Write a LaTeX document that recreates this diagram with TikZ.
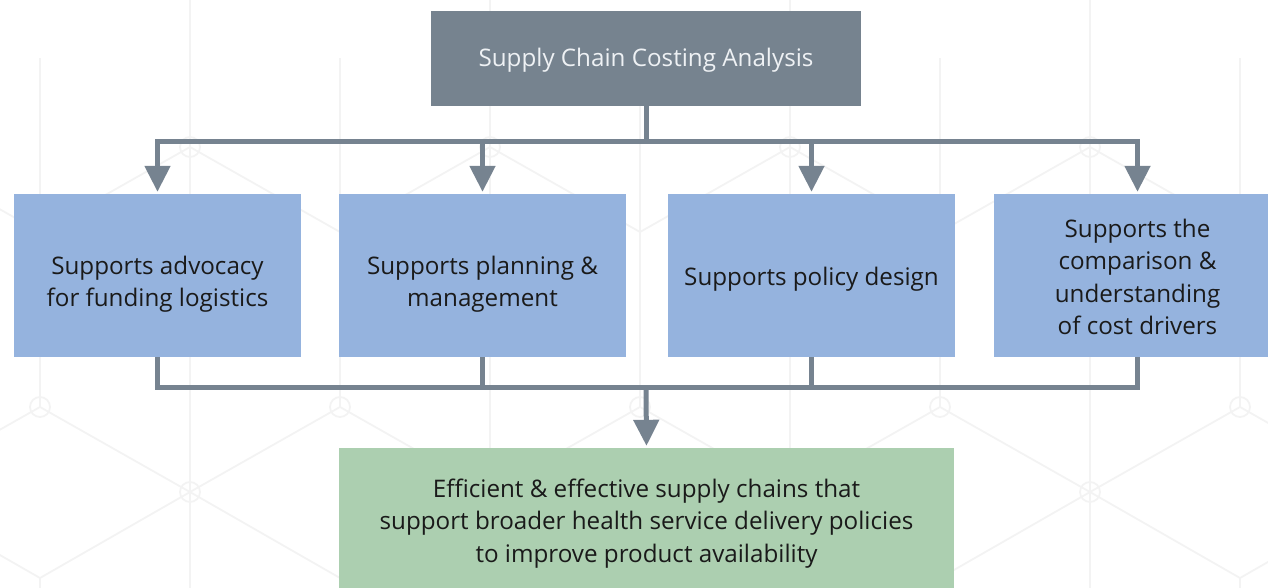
\documentclass[tikz,border=0pt]{standalone}
\usepackage{fontspec}
\setmainfont{Open Sans}
\usetikzlibrary{arrows.meta}
\definecolor{linegray}{HTML}{768390}
\definecolor{topgray}{HTML}{76838F}
\definecolor{boxblue}{HTML}{95B3DE}
\definecolor{boxgreen}{HTML}{ACCFB0}
\definecolor{bgline}{HTML}{F3F3F3}
\definecolor{txt}{HTML}{1A1A1A}
\definecolor{toptxt}{HTML}{EEF1F4}
\tikzset{
  boxbase/.style={rectangle, inner sep=0pt},
  lbl/.style={inner sep=0pt, align=center, font=\fontsize{24.2}{32.5}\selectfont, text=txt},
  toplbl/.style={lbl, text=toptxt},
  topbox/.style={boxbase, fill=topgray, minimum width=430pt, minimum height=95pt},
  bluebox/.style={boxbase, fill=boxblue, minimum width=287pt, minimum height=163pt},
  greenbox/.style={boxbase, fill=boxgreen, minimum width=615pt, minimum height=146pt},
  conn/.style={draw=linegray, line width=5pt},
  arr/.style={conn, -{Triangle[width=25pt,length=26pt]}, shorten >=2pt},
  bg/.style={draw=bgline, line width=1.8pt}
}
\begin{document}
\begin{tikzpicture}[x=1pt,y=-1pt]
\useasboundingbox (0,0) rectangle (1268,588);
\begin{scope}
\clip (0,0) rectangle (1268,588);
% faint background lattice
\foreach \k in {-1,0,1,2,3,4} {
  \pgfmathsetmacro{\xa}{40+300*\k}
  \pgfmathsetmacro{\xb}{190+300*\k}
  \draw[bg] (\xa,58) -- (\xa,407);
  \draw[bg] (\xa,578) -- (\xa,588);
  \draw[bg] (\xb,0) -- (\xb,588);
  \draw[bg] (\xb-150,232) -- (\xb,147) -- (\xb+150,232);
  \draw[bg] (\xa-150,492) -- (\xa,407) -- (\xa+150,492);
  \draw[bg] (\xb-150,578) -- (\xb,492) -- (\xb+150,578);
  \draw[bg] (\xb,147) circle (10);
  \draw[bg] (\xa,407) circle (10);
  \draw[bg] (\xb,492) circle (10);
}
% boxes
\node[topbox] (top) at (646,58.5) {};
\node[bluebox] (b1) at (157.5,275.5) {};
\node[bluebox] (b2) at (482.5,275.5) {};
\node[bluebox] (b3) at (811.5,275.5) {};
\node[bluebox] (b4) at (1137.5,275.5) {};
\node[greenbox] (goal) at (646.5,521) {};
% texts
\node[toplbl] (ttop) at ([yshift=-2pt]top.center) {Supply Chain Costing Analysis};
\node[lbl] (t1) at ([yshift=-8.5pt]b1.center) {Supports advocacy\\for funding logistics};
\node[lbl] (t2) at ([yshift=-8.5pt]b2.center) {Supports planning \&\\management};
\node[lbl] (t3) at ([yshift=-3.5pt]b3.center) {Supports policy design};
\node[lbl] (t4) at ([yshift=-1.5pt]b4.center) {Supports the\\comparison \&\\understanding\\of cost drivers};
\node[lbl] (tgoal) at ([yshift=-2.5pt]goal.center) {Efficient \& effective supply chains that\\support broader health service delivery policies\\to improve product availability};
\end{scope}
% connectors
\coordinate (hub) at (646,142);
\coordinate (hub2) at (646,387);
\draw[conn] (top.south) -- (hub);
\foreach \b in {b1,b2,b3,b4} {
  \draw[arr] (hub) -| (\b.north);
  \draw[conn] (\b.south) |- (hub2);
}
\draw[arr] (hub2) -- (goal.north);
\end{tikzpicture}
\end{document}
